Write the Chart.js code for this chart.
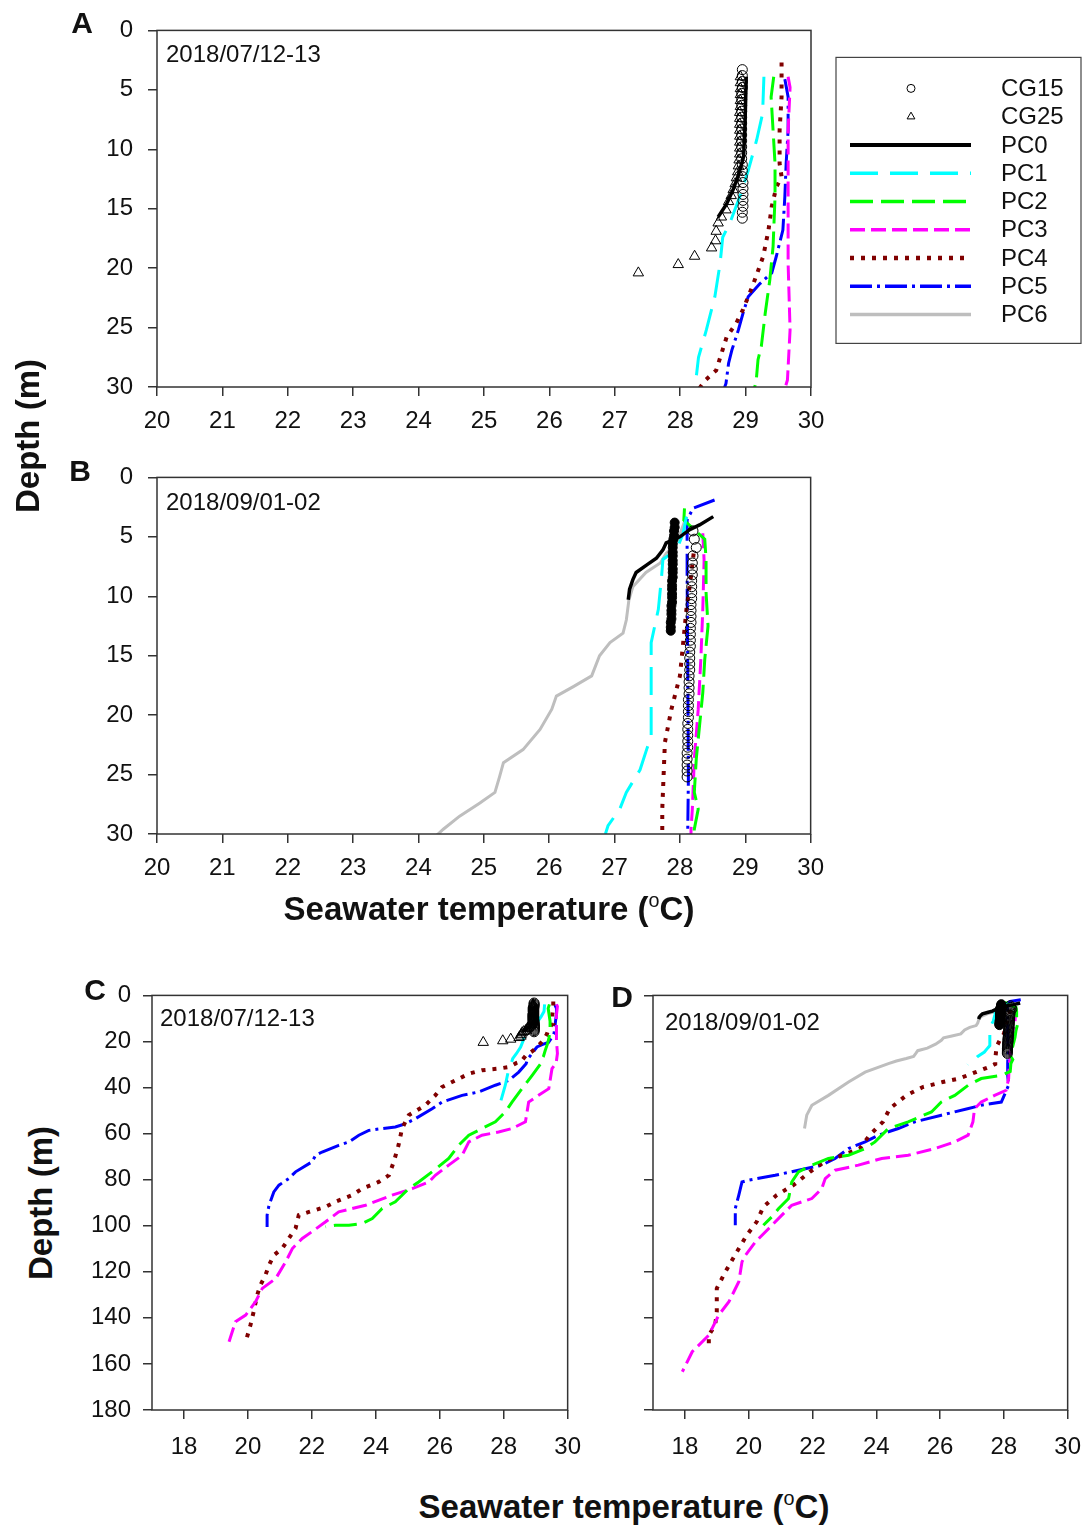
<!DOCTYPE html>
<html>
<head>
<meta charset="utf-8">
<script src="https://cdn.jsdelivr.net/npm/chart.js@4.4.0/dist/chart.umd.min.js"></script>
<style>
  html, body { margin: 0; padding: 0; background: #fff; overflow: hidden; }
  #page { position: relative; width: 1086px; height: 1526px; font-family: "Liberation Sans", Arial, sans-serif; color: #111; }
  canvas { position: absolute; }
  .txt { position: absolute; white-space: nowrap; line-height: 1; }
  .c { transform: translate(-50%, -50%); }
  .panel { font-weight: bold; font-size: 30px; }
  .date { font-size: 24px; transform: translateY(-50%); }
  .title { font-weight: bold; font-size: 33px; }
  .title sup { font-size: 0.6em; font-weight: normal; vertical-align: 0.7em; }
  .vt { transform: translate(-50%, -50%) rotate(-90deg); }
</style>
</head>
<body>
<div id="page">
  <canvas id="chartA"></canvas>
  <canvas id="chartB"></canvas>
  <canvas id="chartC"></canvas>
  <canvas id="chartD"></canvas>

  <div class="txt c panel" style="left:82px; top:23px;">A</div>
  <div class="txt c panel" style="left:80px; top:471px;">B</div>
  <div class="txt c panel" style="left:95px; top:990px;">C</div>
  <div class="txt c panel" style="left:622px; top:997px;">D</div>

  <div class="txt date" style="left:166px; top:54px;">2018/07/12-13</div>
  <div class="txt date" style="left:166px; top:502px;">2018/09/01-02</div>
  <div class="txt date" style="left:160px; top:1018px;">2018/07/12-13</div>
  <div class="txt date" style="left:665px; top:1022px;">2018/09/01-02</div>

  <div class="txt vt title" style="left:27px; top:436px;">Depth (m)</div>
  <div class="txt vt title" style="left:40px; top:1203px;">Depth (m)</div>
  <div class="txt c title" style="left:489px; top:908px;">Seawater temperature (<sup>o</sup>C)</div>
  <div class="txt c title" style="left:624px; top:1506px;">Seawater temperature (<sup>o</sup>C)</div>
</div>

<script>
// ---- tick labels ----
const shallowTempTicks = [20, 21, 22, 23, 24, 25, 26, 27, 28, 29, 30];
const shallowDepthTicks = [0, 5, 10, 15, 20, 25, 30];
const deepTempTicks = [18, 20, 22, 24, 26, 28, 30];
const deepDepthTicks = [0, 20, 40, 60, 80, 100, 120, 140, 160, 180];

const legendNames = ['CG15', 'CG25', 'PC0', 'PC1', 'PC2', 'PC3', 'PC4', 'PC5', 'PC6'];

// ---- 2018/07/12-13 profiles, [temperature, depth] ----
const julCG15 = [[28.95,3.3],[28.95,3.8],[28.95,4.3],[28.95,4.8],[28.94,5.3],[28.94,5.8],[28.94,6.3],[28.94,6.8],[28.94,7.3],[28.94,7.8],[28.94,8.3],[28.94,8.8],[28.94,9.3],[28.94,9.8],[28.94,10.3],[28.94,10.8],[28.95,11.3],[28.95,11.8],[28.95,12.3],[28.96,12.8],[28.96,13.3],[28.96,13.8],[28.96,14.3],[28.96,14.8],[28.95,15.3],[28.95,15.8]];
const julCG25 = [[28.92,3.9],[28.92,4.4],[28.92,4.9],[28.92,5.4],[28.92,5.9],[28.92,6.4],[28.91,6.9],[28.91,7.4],[28.91,7.9],[28.91,8.4],[28.91,8.9],[28.91,9.4],[28.91,9.9],[28.91,10.4],[28.90,10.9],[28.89,11.4],[28.88,11.9],[28.86,12.4],[28.84,12.9],[28.81,13.4],[28.78,13.9],[28.74,14.4],[28.70,15.1],[28.63,15.7],[28.58,16.2],[28.55,16.9],[28.54,17.7],[28.48,18.3],[28.22,19.0],[27.97,19.7],[27.36,20.4]];
const julPC0 = [[29.01,3.9],[29.00,6.0],[28.99,8.0],[28.97,10.6],[28.90,12.0],[28.81,13.4],[28.71,14.6],[28.58,15.7]];
const julPC1 = [[29.28,3.9],[29.26,7.0],[29.17,9.2],[29.04,11.8],[28.91,14.0],[28.76,16.2],[28.65,17.4],[28.61,19.6],[28.53,22.4],[28.40,25.2],[28.28,27.5],[28.23,29.9],[28.16,31.8],[28.05,39.0],[27.90,46.3]];
const julPC2 = [[29.43,3.9],[29.39,5.6],[29.45,11.2],[29.45,14.0],[29.42,18.2],[29.37,21.0],[29.30,23.8],[29.24,26.6],[29.19,27.7],[29.16,29.6],[28.89,34.7],[28.57,40.5],[28.26,46.3],[28.05,50.6],[27.74,54.9],[27.32,57.8],[26.91,60.7],[26.59,65.1],[26.28,70.8],[25.76,76.6],[25.34,81.0],[25.03,83.9],[24.61,89.6],[24.20,92.5],[23.89,96.9],[23.57,99.0],[23.16,99.8],[22.74,99.8],[22.43,100.5]];
const julPC3 = [[29.65,3.9],[29.68,4.8],[29.65,8.4],[29.65,14.0],[29.65,19.6],[29.68,25.2],[29.64,29.4],[29.51,31.8],[29.41,40.5],[29.09,43.4],[28.78,46.3],[28.68,54.9],[28.26,57.8],[27.84,59.3],[27.32,60.7],[26.91,63.6],[26.70,69.4],[26.28,73.7],[25.86,78.1],[25.66,81.0],[25.14,83.9],[24.51,86.7],[23.68,91.1],[22.84,94.0],[22.43,98.3],[22.00,102.6],[21.70,105.5],[21.39,109.9],[21.18,115.7],[20.87,122.9],[20.45,127.2],[20.24,133.0],[19.93,138.8],[19.61,141.7],[19.41,150.4]];
const julPC4 = [[29.55,2.7],[29.55,5.6],[29.52,8.4],[29.52,11.2],[29.55,12.3],[29.47,13.2],[29.40,14.8],[29.35,16.8],[29.27,19.0],[29.12,21.3],[28.96,23.5],[28.86,24.6],[28.71,25.8],[28.63,27.2],[28.55,28.6],[28.39,29.4],[28.16,31.1],[27.84,31.8],[27.32,32.5],[26.91,34.0],[26.49,36.9],[26.07,39.8],[25.86,43.4],[25.55,47.7],[25.03,52.0],[24.82,57.8],[24.71,65.1],[24.56,72.3],[24.41,78.1],[24.09,81.0],[23.57,83.9],[23.26,86.7],[22.74,89.6],[22.43,91.8],[21.91,94.0],[21.59,95.4],[21.49,101.2],[21.28,105.5],[21.07,109.9],[20.81,112.8],[20.66,117.1],[20.55,121.4],[20.39,125.8],[20.29,130.1],[20.18,137.3],[20.08,143.1],[19.93,150.4]];
const julPC5 = [[29.60,4.1],[29.65,5.6],[29.65,8.4],[29.62,11.2],[29.60,14.0],[29.57,16.8],[29.47,19.0],[29.40,20.4],[29.22,21.3],[29.04,22.4],[28.96,23.8],[28.89,25.2],[28.79,26.9],[28.74,28.0],[28.70,29.7],[28.47,33.3],[28.16,36.9],[27.74,39.0],[27.22,41.9],[26.70,43.4],[26.07,46.3],[25.76,49.2],[25.24,53.5],[24.93,55.7],[24.61,57.1],[24.20,57.8],[23.78,58.6],[23.47,60.7],[23.16,63.6],[22.84,65.1],[22.32,68.0],[22.12,69.4],[22.00,72.3],[21.49,76.6],[21.28,79.5],[20.97,82.4],[20.81,85.3],[20.66,91.1],[20.60,95.4],[20.60,100.5]];

// ---- 2018/09/01-02 profiles, [temperature, depth] ----
const sepCG15 = [[28.20,4.5],[28.22,5.2],[28.25,5.9],[28.20,6.6],[28.19,7.2],[28.19,7.7],[28.19,8.2],[28.18,8.7],[28.18,9.2],[28.18,9.7],[28.18,10.2],[28.17,10.7],[28.17,11.2],[28.17,11.7],[28.17,12.2],[28.16,12.7],[28.16,13.2],[28.16,13.7],[28.16,14.2],[28.15,14.7],[28.15,15.2],[28.15,15.7],[28.15,16.2],[28.14,16.7],[28.14,17.2],[28.14,17.7],[28.14,18.2],[28.13,18.7],[28.13,19.2],[28.13,19.7],[28.13,20.2],[28.12,20.7],[28.12,21.2],[28.12,21.7],[28.12,22.2],[28.12,22.7],[28.11,23.2],[28.11,23.7],[28.11,24.2],[28.11,24.7],[28.11,25.2]];
const sepCG25 = [[27.92,3.8],[27.92,4.2],[27.91,4.5],[27.91,4.9],[27.90,5.2],[27.89,5.6],[27.89,5.9],[27.89,6.3],[27.89,6.6],[27.89,7.0],[27.89,7.3],[27.89,7.7],[27.89,8.0],[27.89,8.4],[27.88,8.7],[27.88,9.1],[27.88,9.4],[27.88,9.8],[27.88,10.1],[27.88,10.5],[27.87,10.8],[27.87,11.2],[27.87,11.5],[27.87,11.9],[27.86,12.2],[27.86,12.6],[27.86,12.9]];
const sepPC0 = [[28.51,3.3],[28.30,4.0],[28.15,4.4],[28.00,5.0],[27.79,5.5],[27.74,6.1],[27.64,6.8],[27.51,7.3],[27.33,8.0],[27.28,8.6],[27.23,9.4],[27.21,10.3]];
const sepPC1 = [[28.10,3.3],[28.05,4.7],[27.95,6.1],[27.74,6.9],[27.72,8.3],[27.67,11.1],[27.56,13.9],[27.56,16.7],[27.56,19.5],[27.56,21.8],[27.49,22.9],[27.39,24.6],[27.18,26.5],[27.08,27.9],[26.90,29.3],[26.86,30.0]];
const sepPC2 = [[28.07,2.6],[28.06,3.6],[28.38,5.2],[28.40,6.9],[28.40,9.7],[28.43,12.5],[28.38,15.3],[28.35,18.1],[28.30,20.9],[28.25,23.7],[28.22,26.5],[28.28,27.9],[28.22,29.6],[28.20,33.0],[27.92,34.7],[27.29,36.1],[26.88,39.0],[26.46,43.4],[26.04,46.3],[25.73,50.6],[25.00,54.9],[24.38,57.8],[23.96,63.6],[23.65,66.5],[23.13,69.4],[22.50,70.8],[21.98,73.7],[21.56,76.6],[21.35,81.0],[21.25,88.2],[20.94,92.5],[20.73,96.1],[20.46,99.8]];
const sepPC3 = [[28.35,4.7],[28.37,7.0],[28.35,11.1],[28.32,15.3],[28.28,19.5],[28.22,23.7],[28.19,27.9],[28.17,29.6],[28.15,36.1],[28.07,41.2],[27.71,43.4],[27.29,46.3],[27.08,49.2],[27.03,54.9],[26.88,60.7],[26.46,63.6],[25.83,66.5],[25.00,69.4],[24.17,70.8],[23.44,73.7],[22.71,75.9],[22.40,79.5],[22.29,83.9],[21.98,88.2],[21.35,91.1],[21.04,95.4],[20.63,101.2],[20.21,107.0],[19.90,112.8],[19.79,115.7],[19.69,124.3],[19.38,133.0],[19.06,138.8],[18.75,147.5],[18.23,154.7],[17.92,163.4]];
const sepPC4 = [[28.21,6.4],[28.17,8.3],[28.10,11.1],[28.05,13.9],[28.00,16.7],[27.87,19.5],[27.77,22.3],[27.75,25.1],[27.73,27.9],[27.73,29.8],[27.55,31.0],[27.12,33.3],[26.60,36.1],[26.08,37.6],[25.46,39.8],[24.94,43.4],[24.42,49.2],[24.21,54.9],[23.79,60.7],[23.48,66.5],[22.96,69.4],[22.44,71.6],[21.92,76.6],[21.40,82.4],[20.88,86.7],[20.46,91.8],[20.25,98.3],[19.94,104.1],[19.63,111.3],[19.27,120.0],[19.00,127.2],[19.00,137.3],[18.95,143.1],[18.75,147.5],[18.75,151.1]];
const sepPC5 = [[28.53,1.9],[28.20,2.6],[28.11,3.6],[28.11,8.3],[28.12,16.7],[28.13,25.1],[28.12,29.6],[28.12,34.7],[28.15,39.0],[27.92,46.3],[27.29,47.7],[26.86,49.2],[26.04,52.0],[25.21,54.9],[24.69,57.8],[24.06,60.7],[23.65,63.6],[23.13,66.5],[22.71,70.8],[22.29,73.7],[21.56,75.9],[20.83,78.1],[20.00,80.2],[19.79,81.0],[19.69,86.7],[19.58,92.5],[19.58,99.8]];
const sepPC6 = [[28.10,3.3],[27.95,5.5],[27.79,6.4],[27.70,7.2],[27.48,8.0],[27.28,9.2],[27.22,10.3],[27.18,12.0],[27.13,13.1],[26.93,13.9],[26.77,15.0],[26.65,16.7],[26.37,17.6],[26.11,18.4],[26.04,19.5],[25.86,21.2],[25.60,22.9],[25.30,24.0],[25.24,25.2],[25.17,26.5],[24.94,27.4],[24.63,28.5],[24.38,29.6],[23.65,33.3],[23.13,37.6],[22.50,43.4],[21.98,47.7],[21.82,52.0],[21.75,57.8]];

// ---- series styles ----
const styles = {
  CG15: { marker: 'circle', radius: 5, fill: 'rgba(255,255,255,0)' },
  CG25: { marker: 'triangle', radius: 6, fill: 'rgba(255,255,255,0)' },
  CG25filled: { marker: 'circle', radius: 4.5, fill: '#000' },
  PC0: { color: '#000000', width: 3.5, dash: [] },
  PC1: { color: '#00FFFF', width: 3, dash: [28, 12] },
  PC2: { color: '#00FF00', width: 3, dash: [23, 8] },
  PC3: { color: '#FF00FF', width: 3, dash: [15, 6] },
  PC4: { color: '#800000', width: 4, dash: [4, 7] },
  PC5: { color: '#0000FF', width: 3, dash: [22, 5, 3, 5] },
  PC6: { color: '#BEBEBE', width: 3, dash: [] }
};

Chart.defaults.font.family = '"Liberation Sans", Arial, sans-serif';
Chart.defaults.font.size = 24;
Chart.defaults.color = '#111';
Chart.defaults.animation = false;

function ds(name, pts, styleKey) {
  const s = styles[styleKey || name];
  const data = pts.map(p => ({ x: p[0], y: p[1] }));
  if (s.marker) {
    return { label: name, data, showLine: false, pointStyle: s.marker, pointRadius: s.radius,
      pointHoverRadius: s.radius, pointBorderColor: '#000', pointBackgroundColor: s.fill, pointBorderWidth: 1 };
  }
  return { label: name, data, showLine: true, borderColor: s.color, borderWidth: s.width, borderDash: s.dash,
    borderCapStyle: 'butt', pointRadius: 0, pointHoverRadius: 0, tension: 0, fill: false };
}

const julySets = () => [
  ds('CG15', julCG15), ds('CG25', julCG25), ds('PC0', julPC0), ds('PC1', julPC1),
  ds('PC2', julPC2), ds('PC3', julPC3), ds('PC4', julPC4), ds('PC5', julPC5)
];
const septSets = () => [
  ds('CG15', sepCG15), ds('CG25', sepCG25, 'CG25filled'), ds('PC0', sepPC0), ds('PC1', sepPC1),
  ds('PC2', sepPC2), ds('PC3', sepPC3), ds('PC4', sepPC4), ds('PC5', sepPC5), ds('PC6', sepPC6)
];

const framePlugin = {
  id: 'frame',
  afterDraw(chart) {
    const { ctx, chartArea: a } = chart;
    ctx.save();
    ctx.strokeStyle = '#333';
    ctx.lineWidth = 1.5;
    ctx.strokeRect(a.left, a.top, a.right - a.left, a.bottom - a.top);
    ctx.restore();
  }
};

// legend box to the right of panel A, placed relative to its plot area
const legendPlugin = {
  id: 'figLegend',
  afterDraw(chart) {
    const ctx = chart.ctx;
    const a = chart.chartArea;
    const bx = a.right + 25, by = a.top + 27, bw = 245, bh = 286;
    const x0 = a.right + 39, x1 = a.right + 160, xm = a.right + 100, xt = a.right + 190;
    ctx.save();
    ctx.strokeStyle = '#444';
    ctx.lineWidth = 1.2;
    ctx.strokeRect(bx, by, bw, bh);
    legendNames.forEach((name, i) => {
      const s = styles[name];
      const y = a.top + 58 + i * 28.25;
      if (s.marker) {
        ctx.strokeStyle = '#000';
        ctx.lineWidth = 1;
        ctx.setLineDash([]);
        ctx.beginPath();
        if (s.marker === 'circle') {
          ctx.arc(xm, y, 4, 0, Math.PI * 2);
        } else {
          const r = 4.5;
          ctx.moveTo(xm, y - r);
          ctx.lineTo(xm + 0.866 * r, y + 0.5 * r);
          ctx.lineTo(xm - 0.866 * r, y + 0.5 * r);
          ctx.closePath();
        }
        ctx.stroke();
      } else {
        ctx.strokeStyle = s.color;
        ctx.lineWidth = s.width + 0.5;
        ctx.setLineDash(s.dash);
        ctx.beginPath();
        ctx.moveTo(x0, y);
        ctx.lineTo(x1, y);
        ctx.stroke();
      }
      ctx.setLineDash([]);
      ctx.fillStyle = '#111';
      ctx.font = '24px "Liberation Sans", Arial, sans-serif';
      ctx.textBaseline = 'middle';
      ctx.textAlign = 'left';
      ctx.fillText(name, xt, y + 1);
    });
    ctx.restore();
  }
};

function chartConfig(datasets, o) {
  return {
    type: 'scatter',
    data: { datasets },
    options: {
      responsive: false,
      maintainAspectRatio: false,
      animation: false,
      layout: { padding: { top: 15, right: o.padRight, left: 0, bottom: 0 } },
      plugins: { legend: { display: false }, tooltip: { enabled: false } },
      scales: {
        x: {
          type: 'linear', position: 'bottom', min: o.xMin, max: o.xMax,
          afterBuildTicks: ax => { ax.ticks = o.xTicks.map(v => ({ value: v })); },
          afterFit: ax => { ax.height = 55; },
          ticks: { padding: o.xPad, maxRotation: 0, autoSkip: false, color: '#111' },
          grid: { drawOnChartArea: false, drawTicks: true, tickLength: o.tick, color: '#333', lineWidth: 1.5 },
          border: { display: false }
        },
        y: {
          type: 'linear', position: 'left', reverse: true, min: o.yMin, max: o.yMax,
          afterBuildTicks: ax => { ax.ticks = o.yTicks.map(v => ({ value: v })); },
          afterFit: ax => { ax.width = 70; },
          ticks: { padding: o.yPad, autoSkip: false, color: '#111',
            callback: v => (o.yLabels ? String(v) : '') },
          grid: { drawOnChartArea: false, drawTicks: true, tickLength: o.tick, color: '#333', lineWidth: 1.5 },
          border: { display: false }
        }
      }
    },
    plugins: o.legend ? [framePlugin, legendPlugin] : [framePlugin]
  };
}

// build the chart, then resize / move its canvas until the plot area sits on the target box
function makeChart(id, box, makeSets, o) {
  const cv = document.getElementById(id);
  const pw = box.r - box.l, ph = box.b - box.t;
  let w = pw + 70 + o.padRight, h = ph + 70;
  let offL = 70, offT = 15;
  let chart = null;
  for (let pass = 0; pass < 4; pass++) {
    cv.width = w; cv.height = h;
    cv.style.width = w + 'px'; cv.style.height = h + 'px';
    cv.style.left = (box.l - offL) + 'px';
    cv.style.top = (box.t - offT) + 'px';
    chart = new Chart(cv, chartConfig(makeSets(), o));
    const a = chart.chartArea;
    const dw = pw - (a.right - a.left), dh = ph - (a.bottom - a.top);
    if (Math.abs(dw) < 0.5 && Math.abs(dh) < 0.5 && Math.abs(a.left - offL) < 0.5 && Math.abs(a.top - offT) < 0.5) break;
    offL = a.left; offT = a.top;
    w += dw; h += dh;
    chart.destroy();
  }
  cv.style.left = (box.l - chart.chartArea.left) + 'px';
  cv.style.top = (box.t - chart.chartArea.top) + 'px';
  return chart;
}

const shallow = { xMin: 20, xMax: 30, xTicks: shallowTempTicks, yMin: 0, yMax: 30, yTicks: shallowDepthTicks,
  tick: 9, xPad: 11, yPad: 15, yLabels: true };
const deep = { xMin: 17, xMax: 30, xTicks: deepTempTicks, yMin: 0, yMax: 180, yTicks: deepDepthTicks,
  tick: 9, xPad: 14, yPad: 12 };

makeChart('chartA', { l: 157, t: 30, r: 811, b: 387 }, julySets, Object.assign({}, shallow, { padRight: 272, legend: true }));
makeChart('chartB', { l: 157, t: 477, r: 811, b: 834 }, septSets, Object.assign({}, shallow, { padRight: 20 }));
makeChart('chartC', { l: 152, t: 995, r: 568, b: 1410 }, julySets, Object.assign({}, deep, { padRight: 15, yLabels: true }));
makeChart('chartD', { l: 653, t: 995, r: 1068, b: 1410 }, septSets, Object.assign({}, deep, { padRight: 16, yLabels: false }));
</script>
</body>
</html>
